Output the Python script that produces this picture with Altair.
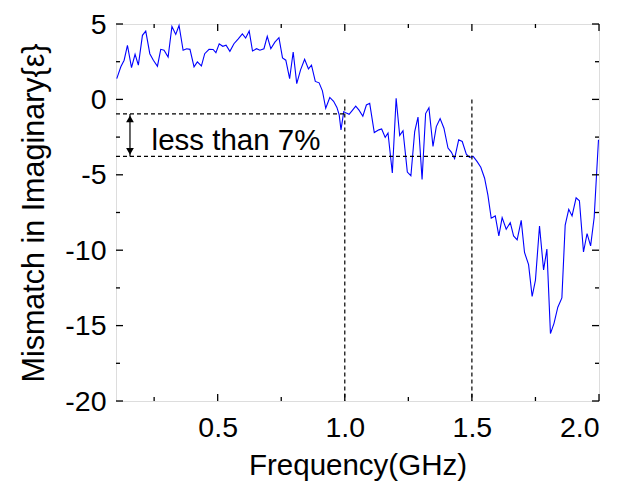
import altair as alt
import pandas as pd

# ---- data ----
freq = [0.103, 0.119, 0.132, 0.145, 0.161, 0.175, 0.188, 0.204, 0.217, 0.233,
        0.247, 0.263, 0.276, 0.289, 0.305, 0.320, 0.335, 0.348, 0.364, 0.378,
        0.391, 0.407, 0.420, 0.436, 0.449, 0.466, 0.482, 0.493, 0.506, 0.520,
        0.533, 0.548, 0.564, 0.581, 0.597, 0.610, 0.624, 0.637, 0.653, 0.666,
        0.682, 0.695, 0.709, 0.725, 0.741, 0.755, 0.768, 0.783, 0.797, 0.811,
        0.826, 0.842, 0.857, 0.869, 0.884, 0.899, 0.912, 0.925, 0.941, 0.956,
        0.969, 0.978, 0.985, 0.996, 1.006, 1.017, 1.029, 1.043, 1.056, 1.071,
        1.085, 1.098, 1.116, 1.134, 1.145, 1.159, 1.170, 1.187, 1.202, 1.216,
        1.229, 1.246, 1.260, 1.275, 1.288, 1.304, 1.318, 1.331, 1.347, 1.360,
        1.375, 1.390, 1.406, 1.419, 1.432, 1.448, 1.462, 1.478, 1.491, 1.505,
        1.520, 1.535, 1.550, 1.563, 1.576, 1.592, 1.606, 1.619, 1.635, 1.651,
        1.664, 1.678, 1.694, 1.707, 1.723, 1.737, 1.750, 1.766, 1.782, 1.795,
        1.809, 1.823, 1.838, 1.854, 1.867, 1.881, 1.894, 1.910, 1.923, 1.939,
        1.953, 1.967, 1.981, 1.990, 1.998]
mismatch = [1.38, 2.16, 2.60, 3.59, 2.11, 2.99, 2.27, 4.25, 4.53, 3.03,
            2.60, 2.20, 3.32, 3.26, 2.81, 4.84, 4.31, 4.90, 3.26, 3.36,
            3.32, 2.16, 2.49, 2.22, 3.03, 3.32, 3.31, 3.10, 3.69, 3.52,
            3.59, 3.19, 3.69, 4.02, 4.35, 4.07, 4.53, 3.21, 3.36, 3.26,
            3.36, 4.18, 3.36, 3.80, 4.09, 2.75, 2.60, 1.38, 3.14, 1.05,
            1.96, 2.66, 2.02, 2.27, 1.19, 1.10, 0.57, -0.59, 0.13, -0.13,
            -0.53, -1.03, -2.02, -0.81, -0.91, -0.99, -0.74, -0.44, -0.71, -1.12,
            -0.37, -0.26, -2.20, -2.02, -1.96, -2.52, -2.23, -4.88, 0.08, -2.39,
            -2.08, -4.82, -5.06, -2.13, -1.17, -5.31, -0.94, -0.56, -3.12, -1.80,
            -1.27, -1.91, -3.23, -3.49, -3.93, -2.68, -2.79, -3.63, -3.84, -3.78,
            -4.11, -4.50, -5.23, -6.35, -7.88, -7.73, -9.05, -7.84, -8.61, -8.17,
            -9.05, -9.31, -8.02, -10.15, -10.96, -13.07, -11.98, -8.40, -11.31, -9.93,
            -15.53, -14.85, -13.78, -13.16, -8.33, -7.29, -7.73, -6.53, -6.72, -10.12,
            -8.90, -9.71, -7.83, -5.10, -2.68]

x_major = [0.5, 1.0, 1.5, 2.0]
x_minor = [0.25, 0.75, 1.25, 1.75]
y_major = [-20, -15, -10, -5, 0, 5]
y_minor = [-17.5, -12.5, -7.5, -2.5, 2.5]

# annotation values
upper_level = -0.96
lower_level = -3.78
x_start = 0.1
guide_x = [1.0, 1.5]
arrow_x = 0.155
label_text = "less than 7%"
label_x = 0.24
label_y = -3.33

W, H = 483, 377
XD = [0.1, 2.0]
YD = [-20, 5]
FONT = "Liberation Sans"

xs = alt.Scale(domain=XD, nice=False, zero=False)
ys = alt.Scale(domain=YD, nice=False, zero=False)
XT = "Frequency(GHz)"
YT = "Mismatch in Imaginary{ε}"

def X(field="x", **kw):
    return alt.X(f"{field}:Q", scale=xs, title=XT, **kw)

def Y(field="y", **kw):
    return alt.Y(f"{field}:Q", scale=ys, title=YT, **kw)

line_df = pd.DataFrame({"x": freq, "y": mismatch})
line = alt.Chart(line_df).mark_line(color="#0000ff", strokeWidth=1.1).encode(
    x=X(axis=alt.Axis(values=x_major, labelExpr="format(datum.value, '.1f')",
                      tickSize=0, domain=False,
                      grid=False, labelFontSize=28.5, labelFont=FONT,
                      labelPadding=12, titleFontSize=29.5, titleFont=FONT,
                      titleFontWeight="normal", titlePadding=10,
                      labelColor="black", titleColor="black")),
    y=Y(axis=alt.Axis(values=y_major, labelExpr="toString(datum.value)",
                      tickSize=0, domain=False,
                      grid=False, labelFontSize=28.5, labelFont=FONT,
                      labelPadding=10, titleFontSize=30.5, titleFont=FONT,
                      titleFontWeight="normal", titlePadding=15,
                      labelColor="black", titleColor="black")),
)

# dashed horizontal guides
h_df = pd.DataFrame({"x": [x_start, x_start], "x2": guide_x,
                     "y": [upper_level, lower_level]})
hdash = alt.Chart(h_df).mark_rule(color="black", strokeDash=[4, 3], strokeWidth=1.2).encode(
    x=X(), x2="x2:Q", y=Y())

# dashed vertical guides
v_df = pd.DataFrame({"x": guide_x, "y": [0, 0], "y2": [-20, -20]})
vdash = alt.Chart(v_df).mark_rule(color="black", strokeDash=[4, 3], strokeWidth=1.2).encode(
    x=X(), y=Y(), y2="y2:Q")

# double arrow
a_df = pd.DataFrame({"x": [arrow_x], "y": [upper_level], "y2": [lower_level]})
arrow = alt.Chart(a_df).mark_rule(color="black", strokeWidth=1.2).encode(
    x=X(), y=Y(), y2="y2:Q")
head_up = alt.Chart(pd.DataFrame({"x": [arrow_x], "y": [upper_level]})).mark_point(
    shape="triangle-up", filled=True, color="black", size=60, opacity=1, yOffset=5).encode(
    x=X(), y=Y())
head_dn = alt.Chart(pd.DataFrame({"x": [arrow_x], "y": [lower_level]})).mark_point(
    shape="triangle-down", filled=True, color="black", size=60, opacity=1, yOffset=-5).encode(
    x=X(), y=Y())

text = alt.Chart(pd.DataFrame({"x": [label_x], "y": [label_y], "t": [label_text]})).mark_text(
    align="left", baseline="alphabetic", fontSize=29.5, font=FONT, color="black").encode(
    x=X(), y=Y(), text="t:N")

# inward ticks on all four sides
def xticks(vals, length):
    df = pd.DataFrame({"x": vals})
    b = alt.Chart(df).mark_rule(color="black", strokeWidth=1.3).encode(
        x=X(), y=alt.value(H), y2=alt.value(H - length))
    t = alt.Chart(df).mark_rule(color="black", strokeWidth=1.3).encode(
        x=X(), y=alt.value(0), y2=alt.value(length))
    return [b, t]

def yticks(vals, length):
    df = pd.DataFrame({"y": vals})
    l = alt.Chart(df).mark_rule(color="black", strokeWidth=1.3).encode(
        y=Y(), x=alt.value(0), x2=alt.value(length))
    r = alt.Chart(df).mark_rule(color="black", strokeWidth=1.3).encode(
        y=Y(), x=alt.value(W), x2=alt.value(W - length))
    return [l, r]

ticks = xticks(x_major, 7) + xticks(x_minor, 4) + yticks(y_major, 7) + yticks(y_minor, 4)

chart = alt.layer(line, hdash, vdash, arrow, head_up, head_dn, text, *ticks).properties(
    width=W, height=H,
    autosize="none",
    padding={"left": 108, "top": 16, "right": 16, "bottom": 80},
).configure_view(stroke="black", strokeWidth=1.5).configure(background="white")

chart.save("out.html", embed_options={"renderer": "svg", "actions": False})
